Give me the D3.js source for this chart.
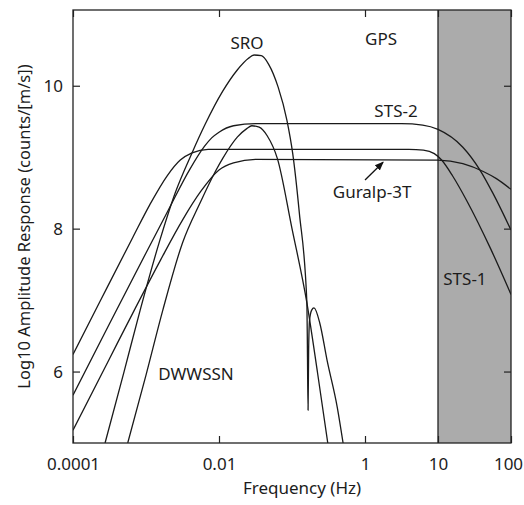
<!DOCTYPE html>
<html>
<head>
<meta charset="utf-8">
<script src="https://cdn.jsdelivr.net/npm/d3@7"></script>
<style>
  html, body { margin: 0; padding: 0; background: #fff; }
  svg { display: block; }
  text { font-family: "Noto Sans", "Open Sans", sans-serif; fill: #1c1c1c; }
</style>
</head>
<body>
<svg id="chart" width="524" height="505"></svg>
<script>
// ---------- data (frequency in Hz, log10 amplitude response) ----------
const sts1Freq = [1e-4, 2.34e-4, 6.61e-4, 1.12e-3, 1.95e-3, 2.95e-3, 4.27e-3, 7.08e-3, 3.98, 6.31, 8.91, 11.2, 15.8, 25.1, 52.5, 100];
const sts1Val  = [6.24, 6.98, 7.88, 8.33, 8.74, 8.96, 9.06, 9.11, 9.11, 9.10, 9.05, 8.96, 8.74, 8.38, 7.72, 7.08];

const sts2Freq = [1e-4, 3.16e-4, 1e-3, 2.0e-3, 3.98e-3, 6.31e-3, 7.94e-3, 0.01, 0.0158, 0.0316, 3.16, 6.17, 10, 21.9, 37.6, 56.2, 100];
const sts2Val  = [5.67, 6.67, 7.66, 8.25, 8.83, 9.15, 9.27, 9.35, 9.44, 9.47, 9.47, 9.45, 9.39, 9.14, 8.82, 8.50, 7.98];

const guralpFreq = [1e-4, 3.16e-4, 6.92e-4, 1.58e-3, 3.16e-3, 5.62e-3, 0.01, 0.0158, 0.0316, 10, 21.9, 41.7, 63.1, 100];
const guralpVal  = [5.18, 6.18, 6.86, 7.56, 8.12, 8.52, 8.82, 8.92, 8.97, 8.96, 8.91, 8.80, 8.70, 8.55];

const sroFreq = [2.75e-4, 5.01e-4, 8.32e-4, 1.55e-3, 2.51e-3, 4.27e-3, 6.46e-3, 0.0112, 0.0178, 0.0251, 0.0302, 0.0380, 0.0479, 0.0646, 0.0851, 0.102, 0.126, 0.160, 0.163, 0.166, 0.169, 0.174, 0.186, 0.200, 0.240, 0.302, 0.417, 0.501];
const sroVal  = [5.00, 6.00, 6.86, 7.84, 8.50, 9.06, 9.46, 9.92, 10.22, 10.38, 10.43, 10.42, 10.30, 9.98, 9.52, 9.06, 8.22, 6.96, 6.20, 5.46, 6.30, 6.72, 6.86, 6.89, 6.68, 6.16, 5.50, 5.00];

const dwwssnFreq = [5.62e-4, 1e-3, 1.70e-3, 3.16e-3, 5.62e-3, 8.91e-3, 0.0112, 0.0178, 0.0240, 0.0282, 0.0355, 0.0457, 0.0631, 0.1, 0.160, 0.224, 0.309];
const dwwssnVal  = [5.00, 5.95, 6.86, 7.80, 8.38, 8.80, 8.98, 9.28, 9.40, 9.44, 9.42, 9.30, 8.98, 8.00, 6.96, 5.98, 5.00];

const xTickValues = [0.0001, 0.01, 1, 10, 100];
const xTickLabels = ["0.0001", "0.01", "1", "10", "100"];
const yTickValues = [6, 8, 10];
const yTickLabels = ["6", "8", "10"];

const shadedBand = [10, 100];   // high-frequency band (Hz)

const curveLabels = [
  { text: "SRO",       f: 0.0242,  v: 10.52 },
  { text: "GPS",       f: 1.66,    v: 10.57 },
  { text: "STS-2",     f: 2.66,    v: 9.56 },
  { text: "Guralp-3T", f: 1.25,    v: 8.43 },
  { text: "STS-1",     f: 23.4,    v: 7.21 },
  { text: "DWWSSN",    f: 0.00484, v: 5.88 }
];
const arrowFrom = { f: 1.0,  v: 8.68 };
const arrowTo   = { f: 1.77, v: 8.93 };

// ---------- layout ----------
const W = 524, H = 505;
const margin = { left: 73, top: 10, right: 13, bottom: 62 };
const innerW = W - margin.left - margin.right;
const innerH = H - margin.top - margin.bottom;

const svg = d3.select("#chart");
const g = svg.append("g").attr("transform", `translate(${margin.left},${margin.top})`);

const x = d3.scaleLog().domain([1e-4, 100]).range([0, innerW]);
const y = d3.scaleLinear().domain([5, 11.06]).range([innerH, 0]);

const defs = svg.append("defs");
defs.append("clipPath").attr("id", "plotclip")
  .append("rect").attr("width", innerW).attr("height", innerH);

// shaded band
g.append("rect")
  .attr("x", x(shadedBand[0])).attr("y", 0)
  .attr("width", x(shadedBand[1]) - x(shadedBand[0]))
  .attr("height", innerH)
  .attr("fill", "#ababab");
g.append("line")
  .attr("x1", x(shadedBand[0])).attr("x2", x(shadedBand[0]))
  .attr("y1", 0).attr("y2", innerH)
  .attr("stroke", "#222").attr("stroke-width", 1.3);

// curves
const series = [
  { f: sts1Freq, v: sts1Val },
  { f: sts2Freq, v: sts2Val },
  { f: guralpFreq, v: guralpVal },
  { f: sroFreq, v: sroVal },
  { f: dwwssnFreq, v: dwwssnVal }
];
const line = d3.line()
  .x(d => x(d[0]))
  .y(d => y(d[1]))
  .curve(d3.curveMonotoneX);

const curves = g.append("g").attr("clip-path", "url(#plotclip)");
series.forEach(s => {
  const pts = s.f.map((f, i) => [f, s.v[i]]);
  curves.append("path")
    .attr("d", line(pts))
    .attr("fill", "none")
    .attr("stroke", "#1a1a1a")
    .attr("stroke-width", 1.3)
    .attr("stroke-linejoin", "round");
});

// axes
const fontSize = 17;
const xAxis = d3.axisBottom(x).tickValues(xTickValues)
  .tickFormat((d, i) => xTickLabels[i]).tickSize(-7).tickPadding(15);
const xAxisTop = d3.axisTop(x).tickValues(xTickValues).tickFormat("").tickSize(-7);
const yAxis = d3.axisLeft(y).tickValues(yTickValues)
  .tickFormat((d, i) => yTickLabels[i]).tickSize(-7).tickPadding(10);
const yAxisRight = d3.axisRight(y).tickValues(yTickValues).tickFormat("").tickSize(-7);

function styleAxis(sel) {
  sel.select(".domain").remove();
  sel.selectAll(".tick line").attr("stroke", "#222").attr("stroke-width", 1.2);
  sel.selectAll(".tick text").attr("font-size", fontSize).attr("fill", "#1c1c1c")
    .attr("font-family", '"Noto Sans", sans-serif');
}
const gx = g.append("g").attr("transform", `translate(0,${innerH})`).call(xAxis).call(styleAxis);
// keep the last label inside the window
gx.selectAll(".tick text").filter((d, i) => i === xTickValues.length - 1).attr("dx", -3);
g.append("g").call(xAxisTop).call(styleAxis);
g.append("g").call(yAxis).call(styleAxis);
g.append("g").attr("transform", `translate(${innerW},0)`).call(yAxisRight).call(styleAxis);

// frame
g.append("rect").attr("width", innerW).attr("height", innerH)
  .attr("fill", "none").attr("stroke", "#222").attr("stroke-width", 1.3);

// curve labels
g.selectAll(".clabel").data(curveLabels).join("text")
  .attr("class", "clabel")
  .attr("x", d => x(d.f)).attr("y", d => y(d.v))
  .attr("text-anchor", "middle")
  .attr("font-size", fontSize)
  .text(d => d.text);

// arrow
defs.append("marker")
  .attr("id", "ah").attr("viewBox", "0 0 10 10")
  .attr("refX", 9).attr("refY", 5)
  .attr("markerWidth", 9).attr("markerHeight", 9)
  .attr("markerUnits", "userSpaceOnUse")
  .attr("orient", "auto")
  .append("path").attr("d", "M0,1 L10,5 L0,9 Z").attr("fill", "#111");
g.append("line")
  .attr("x1", x(arrowFrom.f)).attr("y1", y(arrowFrom.v))
  .attr("x2", x(arrowTo.f)).attr("y2", y(arrowTo.v))
  .attr("stroke", "#111").attr("stroke-width", 1.3)
  .attr("marker-end", "url(#ah)");

// axis titles
svg.append("text")
  .attr("x", margin.left + (x(1) + x(0.01)) / 2 + 10)
  .attr("y", 494)
  .attr("text-anchor", "middle")
  .attr("font-size", fontSize)
  .text("Frequency (Hz)");
svg.append("text")
  .attr("transform", `translate(30,${margin.top + innerH / 2}) rotate(-90)`)
  .attr("text-anchor", "middle")
  .attr("font-size", 16.5)
  .text("Log10 Amplitude Response (counts/[m/s])");
</script>
</body>
</html>
